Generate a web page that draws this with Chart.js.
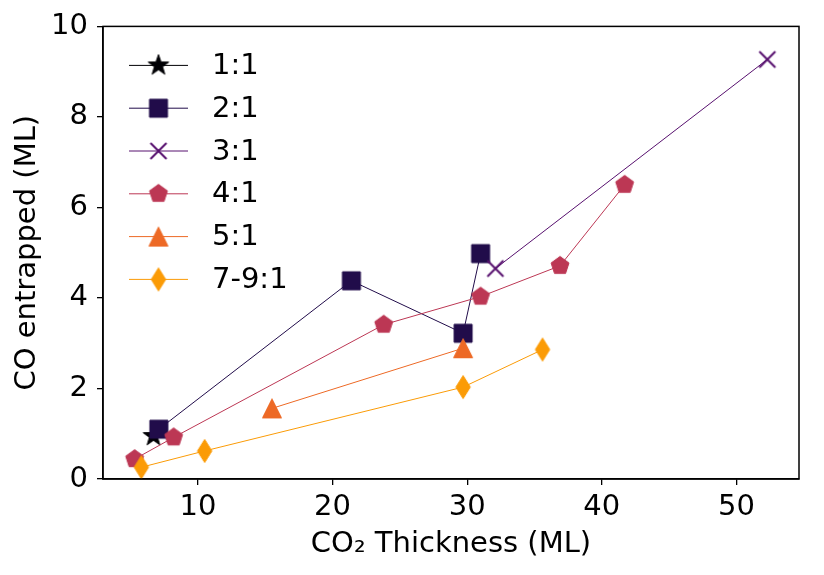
<!DOCTYPE html>
<html>
<head>
<meta charset="utf-8">
<script src="https://cdn.jsdelivr.net/npm/chart.js@4/dist/chart.umd.min.js"></script>
<style>
  html, body { margin: 0; padding: 0; background: #fff; }
</style>
</head>
<body>
<canvas id="chart" width="824" height="575"></canvas>
<script>
// series values
const seriesLabels = ['1:1', '2:1', '3:1', '4:1', '5:1', '7-9:1'];
const x11 = [6.7];
const y11 = [0.95];
const x21 = [7.1, 21.4, 29.7, 31.0];
const y21 = [1.10, 4.38, 3.22, 4.98];
const x31 = [32.1, 52.3];
const y31 = [4.65, 9.27];
const x41 = [5.3, 8.2, 23.8, 31.0, 36.9, 41.7];
const y41 = [0.44, 0.92, 3.41, 4.03, 4.71, 6.50];
const x51 = [15.5, 29.7];
const y51 = [1.56, 2.89];
const x79 = [5.8, 10.5, 29.7, 35.6];
const y79 = [0.26, 0.62, 2.03, 2.86];
const xTicks = [10, 20, 30, 40, 50];
const yTicks = [0, 2, 4, 6, 8, 10];

const colors = ['#000004', '#210c4a', '#57106e', '#bc3754', '#ed6925', '#fb9b06'];
const kinds = ['star', 'square', 'x', 'pentagon', 'triangle', 'diamond'];
const FONT = '"DejaVu Sans", sans-serif';
const FSIZE = 29;

// matplotlib-like marker shapes drawn on small canvases
function marker(kind, color) {
    const c = document.createElement('canvas');
    c.width = 26; c.height = 26;
    const g = c.getContext('2d');
    g.translate(13, 13);
    g.fillStyle = color;
    g.strokeStyle = color;
    g.lineWidth = 1;
    g.lineJoin = 'miter';
    g.beginPath();
    if (kind === 'star') {
        for (let i = 0; i < 10; i++) {
            const r = i % 2 ? 4.3 : 10.8;
            const a = -Math.PI / 2 + i * Math.PI / 5;
            g.lineTo(r * Math.cos(a), r * Math.sin(a));
        }
    } else if (kind === 'square') {
        g.rect(-9, -9, 18, 18);
    } else if (kind === 'pentagon') {
        for (let i = 0; i < 5; i++) {
            const a = -Math.PI / 2 + i * 2 * Math.PI / 5;
            g.lineTo(9.4 * Math.cos(a), 9.4 * Math.sin(a));
        }
    } else if (kind === 'triangle') {
        g.moveTo(0, -9.5); g.lineTo(9.5, 9.5); g.lineTo(-9.5, 9.5);
    } else if (kind === 'diamond') {
        g.moveTo(0, -11.5); g.lineTo(7.2, 0); g.lineTo(0, 11.5); g.lineTo(-7.2, 0);
    } else if (kind === 'x') {
        g.lineWidth = 2;
        g.moveTo(-8, -8); g.lineTo(8, 8);
        g.moveTo(8, -8); g.lineTo(-8, 8);
        g.stroke();
        return c;
    }
    g.closePath();
    g.fill();
    g.stroke();
    return c;
}

const xs = [x11, x21, x31, x41, x51, x79];
const ys = [y11, y21, y31, y41, y51, y79];

const datasets = seriesLabels.map((label, i) => ({
    label: label,
    data: xs[i].map((x, j) => ({ x: x, y: ys[i][j] })),
    showLine: true,
    borderColor: colors[i],
    backgroundColor: colors[i],
    borderWidth: 1,
    pointStyle: marker(kinds[i], colors[i]),
    pointRadius: 10,
    order: seriesLabels.length - i   // later series on top, like matplotlib
}));

// axes frame + legend inside the plot, matplotlib style
const mplPlugin = {
    id: 'mpl',
    afterDraw(chart) {
        const g = chart.ctx;
        const ca = chart.chartArea;
        g.save();
        g.strokeStyle = '#000';
        g.lineWidth = 1.5;
        g.strokeRect(ca.left, ca.top, ca.right - ca.left, ca.bottom - ca.top);

        chart.data.datasets.forEach((ds, i) => {
            const y = ca.top + 39 + i * 42.8;
            const x0 = ca.left + 26;
            g.strokeStyle = ds.borderColor;
            g.lineWidth = 1;
            g.beginPath();
            g.moveTo(x0, y);
            g.lineTo(x0 + 59, y);
            g.stroke();
            g.drawImage(ds.pointStyle, x0 + 29.5 - 13, y - 13);
            g.fillStyle = '#000';
            g.font = FSIZE + 'px ' + FONT;
            g.textBaseline = 'middle';
            g.textAlign = 'left';
            g.fillText(ds.label, x0 + 83, y + 1);
        });
        g.restore();
    }
};

const ctx = document.getElementById('chart').getContext('2d');
new Chart(ctx, {
    type: 'scatter',
    data: { datasets: datasets },
    options: {
        responsive: false,
        animation: false,
        devicePixelRatio: 1,
        layout: { padding: { left: 0, right: 25, top: 25, bottom: 0 } },
        plugins: {
            legend: { display: false },
            tooltip: { enabled: false }
        },
        scales: {
            x: {
                type: 'linear',
                min: 2.95,
                max: 54.65,
                afterBuildTicks: s => { s.ticks = xTicks.map(v => ({ value: v })); },
                afterFit: s => { s.height = 96; },
                ticks: { color: '#000', font: { family: FONT, size: FSIZE }, padding: 5 },
                grid: { drawOnChartArea: false, tickLength: 6, color: '#000', lineWidth: 1.3 },
                border: { color: '#000', width: 1.5 },
                title: {
                    display: true,
                    text: 'CO₂ Thickness (ML)',
                    color: '#000',
                    font: { family: FONT, size: FSIZE },
                    padding: { top: 0, bottom: 13 }
                }
            },
            y: {
                type: 'linear',
                min: 0,
                max: 10,
                afterBuildTicks: s => { s.ticks = yTicks.map(v => ({ value: v })); },
                afterFit: s => { s.width = 103; },
                ticks: { color: '#000', font: { family: FONT, size: FSIZE }, padding: 9 },
                grid: { drawOnChartArea: false, tickLength: 6, color: '#000', lineWidth: 1.3 },
                border: { color: '#000', width: 1.5 },
                title: {
                    display: true,
                    text: 'CO entrapped (ML)',
                    color: '#000',
                    font: { family: FONT, size: FSIZE },
                    padding: { top: 10, bottom: 0 }
                }
            }
        }
    },
    plugins: [mplPlugin]
});
</script>
</body>
</html>
